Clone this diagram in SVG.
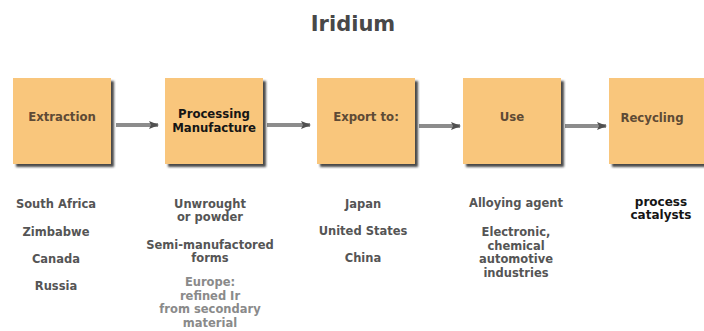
<svg xmlns="http://www.w3.org/2000/svg" width="704" height="331" viewBox="0 0 704 331">
<defs>
<filter id="sh" x="-10%" y="-10%" width="130%" height="130%">
<feDropShadow dx="3" dy="3" stdDeviation="1.2" flood-color="#2a2a2a" flood-opacity="0.85"/>
</filter>
<linearGradient id="shaft" x1="0" y1="0" x2="0" y2="1">
<stop offset="0" stop-color="#d8d8d8"/>
<stop offset="0.5" stop-color="#7a7a7a"/>
<stop offset="1" stop-color="#d0d0d0"/>
</linearGradient>
<marker id="ah" markerWidth="10" markerHeight="8" refX="9" refY="4" orient="auto" markerUnits="userSpaceOnUse">
<path d="M0,0 L10,4 L0,8 L2,4 Z" fill="#505050"/>
</marker>
</defs>
<style>
.box{fill:#f9c67c;filter:url(#sh);}
.bl{font-family:"DejaVu Sans Condensed","DejaVu Sans",sans-serif;font-weight:bold;font-size:13px;fill:#5e4a35;text-anchor:middle;}
.dk{fill:#151515;}
.t{font-family:"DejaVu Sans",Verdana,sans-serif;font-weight:bold;font-size:11.5px;fill:#555;text-anchor:middle;}
.lt{fill:#8a8a8a;}
.bk{fill:#151515;font-size:12px;}
.title{font-family:"DejaVu Sans",Verdana,sans-serif;font-weight:bold;font-size:21px;fill:#484848;text-anchor:middle;}
.sh{stroke:#8c8c8c;stroke-width:4;fill:none;}
</style>
<rect width="704" height="331" fill="#ffffff"/>
<text class="title" x="353" y="31">Iridium</text>

<g id="connectors">
<path class="sh" d="M116,125 H158" marker-end="url(#ah)"/>
<path class="sh" d="M267,125 H310" marker-end="url(#ah)"/>
<path class="sh" d="M419,126 H460" marker-end="url(#ah)"/>
<path class="sh" d="M565,126 H606" marker-end="url(#ah)"/>
</g>

<g id="extraction">
<rect class="box" x="13" y="78" width="98" height="86"/>
<text class="bl" x="62" y="121">Extraction</text>
</g>
<g id="processing">
<rect class="box" x="165" y="78" width="98" height="86"/>
<text class="bl dk" x="214" y="118">Processing</text>
<text class="bl dk" x="214" y="132">Manufacture</text>
</g>
<g id="export">
<rect class="box" x="317" y="78" width="98" height="86"/>
<text class="bl" x="366" y="121">Export to:</text>
</g>
<g id="use">
<rect class="box" x="463" y="78" width="98" height="86"/>
<text class="bl" x="512" y="121">Use</text>
</g>
<g id="recycling">
<rect class="box" x="609" y="78" width="100" height="86"/>
<text class="bl" x="652" y="122">Recycling</text>
</g>

<g id="col1">
<text class="t" x="56" y="208">South Africa</text>
<text class="t" x="56" y="236">Zimbabwe</text>
<text class="t" x="56" y="263">Canada</text>
<text class="t" x="56" y="290">Russia</text>
</g>
<g id="col2">
<text class="t" x="210" y="208">Unwrought</text>
<text class="t" x="210" y="221">or powder</text>
<text class="t" x="210" y="249">Semi-manufactored</text>
<text class="t" x="210" y="262">forms</text>
<text class="t lt" x="210" y="286">Europe:</text>
<text class="t lt" x="210" y="300">refined Ir</text>
<text class="t lt" x="210" y="313">from secondary</text>
<text class="t lt" x="210" y="327">material</text>
</g>
<g id="col3">
<text class="t" x="363" y="208">Japan</text>
<text class="t" x="363" y="235">United States</text>
<text class="t" x="363" y="262">China</text>
</g>
<g id="col4">
<text class="t" x="516" y="207">Alloying agent</text>
<text class="t" x="516" y="236">Electronic,</text>
<text class="t" x="516" y="250">chemical</text>
<text class="t" x="516" y="263">automotive</text>
<text class="t" x="516" y="277">industries</text>
</g>
<g id="col5">
<text class="t bk" x="661" y="206">process</text>
<text class="t bk" x="661" y="219">catalysts</text>
</g>
</svg>
